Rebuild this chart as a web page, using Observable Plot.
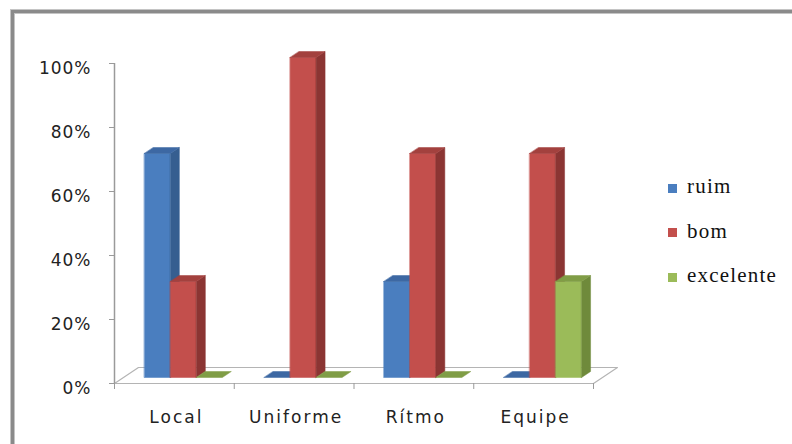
<!DOCTYPE html>
<html>
<head>
<meta charset="utf-8">
<script src="https://cdn.jsdelivr.net/npm/d3@7"></script>
<script src="https://cdn.jsdelivr.net/npm/@observablehq/plot@0.6"></script>
<style>
  html, body { margin: 0; padding: 0; background: #fff; }
  #wrap { position: relative; width: 792px; height: 444px; overflow: hidden; background: #fff; }
  #wrap svg { position: absolute; left: 0; top: 0; }
  #frame {
    position: absolute; left: 11px; top: 10px; width: 900px; height: 600px;
    border-top: 3px solid #8a8a8a; border-left: 3px solid #8a8a8a;
    box-shadow: inset 1px 1px 0 #c4c4c4, -1px -1px 0 #c4c4c4;
    pointer-events: none;
  }
  g[aria-label="x-axis tick label"] text { letter-spacing: 2px; }
  g[aria-label="y-axis tick label"] text { letter-spacing: 1px; }
  #legend { position: absolute; left: 668px; top: 0; font-family: "Liberation Serif", "Times New Roman", serif; font-size: 21px; color: #111; }
  #legend .item { position: absolute; left: 0; white-space: nowrap; letter-spacing: 1.2px; }
  #legend .sw { position: absolute; left: 0; width: 9px; height: 9px; }
  #legend .lb { position: absolute; left: 19px; line-height: 1; }
</style>
</head>
<body>
<div id="wrap">
  <div id="frame"></div>
  <div id="legend"></div>
</div>
<script>
// Avaliação por critério
const categorias = ["Local", "Uniforme", "Rítmo", "Equipe"];
const series = ["ruim", "bom", "excelente"];
const ruim = [0.70, 0.00, 0.30, 0.00];
const bom = [0.30, 1.00, 0.70, 0.70];
const excelente = [0.00, 0.00, 0.00, 0.30];
const yTicks = [0, 0.2, 0.4, 0.6, 0.8, 1.0];

// face colours per series: front, side, top
const corFrente = ["#4a7ebf", "#c34f4c", "#9bbb59"];
const corLado = ["#365e90", "#8b3533", "#6f8a3b"];
const corTopo = ["#3d68a3", "#a3413e", "#809d46"];

const valores = [ruim, bom, excelente];

// pseudo-3D layout, in data units
const W = 0.217;                 // bar width (fraction of a category)
const G0 = (1 - 3 * W) / 2;      // gap before first bar
const DX = 0.2, DY = 0.05;       // floor depth offset
const F0 = 0.375, F1 = 0.75;     // bar front/back depth fractions
const bx = (F1 - F0) * DX, by = (F1 - F0) * DY;

// faces in drawing order: bar by bar, left to right
const faces = [];
categorias.forEach((cat, i) => {
  series.forEach((s, j) => {
    const v = valores[j][i];
    const x0 = i + G0 + j * W + F0 * DX, x1 = x0 + W;
    const y0 = F0 * DY, y1 = v + F0 * DY;
    const id = `${cat}-${s}`;
    const push = (face, fill, pts) => pts.forEach(([x, y]) => faces.push({id: `${id}-${face}`, x, y, fill}));
    if (v > 0) {
      push("front", corFrente[j], [[x0, y0], [x1, y0], [x1, y1], [x0, y1]]);
      push("side", corLado[j], [[x1, y0], [x1 + bx, y0 + by], [x1 + bx, y1 + by], [x1, y1]]);
    }
    push("top", corTopo[j], [[x0, y1], [x1, y1], [x1 + bx, y1 + by], [x0 + bx, y1 + by]]);
  });
});

const n = categorias.length;
const chao = [[0, 0], [n, 0], [n + DX, DY], [DX, DY]].map(([x, y]) => ({x, y}));

const axisFont = {fontFamily: "DejaVu Sans, Verdana, sans-serif", fontSize: 17};

const chart = Plot.plot({
  width: 792,
  height: 444,
  marginLeft: 114,
  marginRight: 199,
  marginTop: 63,
  marginBottom: 61,
  style: {background: "transparent", color: "#222"},
  x: {domain: [0, n]},
  y: {domain: [0, 1]},
  color: {type: "identity"},
  marks: [
    // floor
    Plot.line(chao, {x: "x", y: "y", curve: "linear-closed", fill: "#fff", stroke: "#b4b4b4", strokeWidth: 1.2}),
    // value axis line and ticks
    Plot.ruleX([0], {y1: 0, y2: 1, stroke: "#9a9a9a", strokeWidth: 1.5}),
    Plot.axisY(yTicks, {tickSize: 5, tickFormat: () => "", stroke: "#9a9a9a", label: null}),
    Plot.axisY(yTicks, {tickSize: 0, tickPadding: 23, dy: 5, tickFormat: d3.format(".0%"), label: null, ...axisFont}),
    // category axis ticks and labels
    Plot.axisX(d3.range(n + 1), {tickSize: 6, tickFormat: () => "", stroke: "#9a9a9a", label: null}),
    Plot.axisX(d3.range(n).map(i => i + 0.5), {tickSize: 0, tickPadding: 27, dx: 2, tickFormat: d => categorias[Math.floor(d)], label: null, ...axisFont}),
    // bars
    Plot.line(faces, {x: "x", y: "y", z: "id", fill: "fill", stroke: "fill", strokeWidth: 0.5, curve: "linear-closed"})
  ]
});
document.getElementById("wrap").insertBefore(chart, document.getElementById("frame"));

// legend
const legend = document.getElementById("legend");
series.forEach((s, j) => {
  const cy = 188 + j * 44.5;
  const sw = document.createElement("div");
  sw.className = "sw";
  sw.style.top = (cy - 4.5) + "px";
  sw.style.background = corFrente[j];
  legend.appendChild(sw);
  const lb = document.createElement("div");
  lb.className = "item lb";
  lb.style.top = (cy - 12) + "px";
  lb.textContent = s;
  legend.appendChild(lb);
});
</script>
</body>
</html>
